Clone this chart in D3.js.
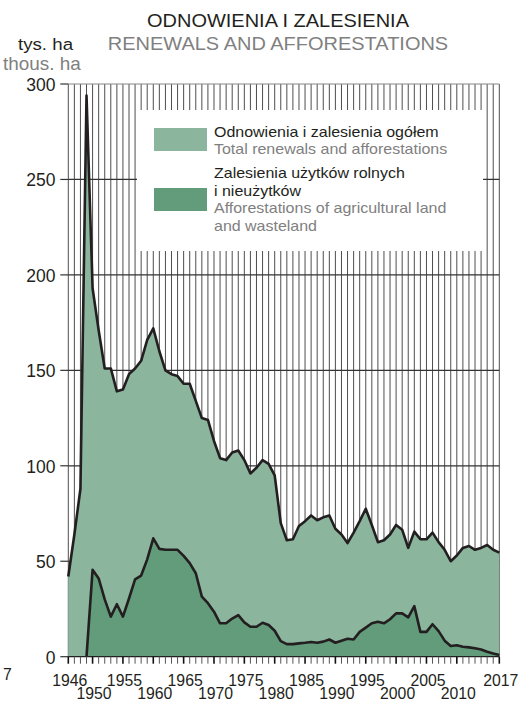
<!DOCTYPE html>
<html>
<head>
<meta charset="utf-8">
<script src="https://cdn.jsdelivr.net/npm/d3@7"></script>
<style>
  body { margin: 0; background: #fff; }
  svg { font-family: "Liberation Sans", Arial, sans-serif; }
</style>
</head>
<body>
<div id="chart"></div>
<script>
// chart data (thous. ha)
const years = d3.range(1946, 2018);
const total = [42, 64, 88, 294, 193, 171, 151, 151, 139, 140, 148, 151, 155, 166, 172, 160, 150, 148, 147, 143,
  143, 134, 125, 124, 113, 104, 103, 107, 108, 103, 96, 99, 103, 101, 95, 70, 61, 61.5, 68.5, 71,
  74, 71.5, 73, 74, 67, 64, 59.5, 65, 71, 77.5, 69, 60, 61, 64, 69, 66.5, 57, 65.5, 61.5, 61.5,
  65, 60, 56, 50, 53, 57, 58, 56, 57, 58.5, 56, 54.5];
const agriYears = d3.range(1949, 2018);
const agri = [0, 45.5, 41, 30, 21, 27.5, 21, 30.5, 40.5, 42.5, 51, 62, 56.5, 56, 56, 56,
  52.8, 49, 43.7, 31.5, 28, 23.6, 17.5, 17.5, 20, 21.8, 18, 15.7, 15.7, 17.8, 16.6, 13.6, 8.2, 6.6, 6.6, 7,
  7.3, 7.7, 7.3, 7.9, 9, 7.3, 8.4, 9.4, 9, 13, 15.2, 17.5, 18.3, 17.5, 19.6, 22.7, 22.7, 20.6, 26.5, 13,
  13, 17, 13.4, 8.4, 5.6, 6, 5.2, 4.9, 4.4, 3.8, 2.6, 1.7, 0.9];
const yTicks = [0, 50, 100, 150, 200, 250, 300];
const xLabelsTop = [1946, 1955, 1965, 1975, 1985, 1995, 2005, 2017];
const xLabelsBottom = [1950, 1960, 1970, 1980, 1990, 2000, 2010];

const width = 519, height = 703;
const margin = {top: 84, right: 19.7, bottom: 46.3, left: 68.3};
const lightGreen = "#8bb59d", darkGreen = "#639c7b";
const ink = "#231f20", grey = "#808080";

const svg = d3.select("#chart").append("svg")
  .attr("width", width)
  .attr("height", height);

const x = d3.scaleLinear().domain([1946, 2017]).range([margin.left, width - margin.right]);
const y = d3.scaleLinear().domain([0, 300]).range([height - margin.bottom, margin.top]);

// put a text somewhere, sx widens/narrows the lettering
function label(parent, tx, ty, txt, size, fill, anchor, sx) {
  return parent.append("text")
    .attr("transform", `translate(${tx},${ty}) scale(${sx || 1.08},1)`)
    .attr("font-size", size + "px")
    .attr("fill", fill)
    .attr("text-anchor", anchor || "start")
    .text(txt);
}

// vertical year grid
svg.append("g")
  .selectAll("line")
  .data(years)
  .enter().append("line")
  .attr("x1", d => x(d)).attr("x2", d => x(d))
  .attr("y1", y(300)).attr("y2", y(0))
  .attr("stroke", "#3a3a3a")
  .attr("stroke-width", 0.9);

// horizontal grid
svg.append("g")
  .selectAll("line")
  .data(yTicks.filter(d => d > 0))
  .enter().append("line")
  .attr("x1", x(1946)).attr("x2", x(2017))
  .attr("y1", d => y(d)).attr("y2", d => y(d))
  .attr("stroke", d => d == 300 ? "#888" : "#333")
  .attr("stroke-width", 1.2);

// y ticks to the left
svg.append("g")
  .selectAll("line")
  .data(yTicks)
  .enter().append("line")
  .attr("x1", x(1946) - 8).attr("x2", x(1946))
  .attr("y1", d => y(d)).attr("y2", d => y(d))
  .attr("stroke", "#333")
  .attr("stroke-width", 1.2);

// legend box hides grid
svg.append("rect")
  .attr("x", 137).attr("y", 110)
  .attr("width", 346).attr("height", 141)
  .attr("fill", "#fff");

const areaTotal = d3.area()
  .x((d, i) => x(years[i]))
  .y0(y(0))
  .y1(d => y(d));
const areaAgri = d3.area()
  .x((d, i) => x(agriYears[i]))
  .y0(y(0))
  .y1(d => y(d));

svg.append("path").datum(total).attr("d", areaTotal).attr("fill", lightGreen);
svg.append("path").datum(agri).attr("d", areaAgri).attr("fill", darkGreen);

const lineTotal = d3.line().x((d, i) => x(years[i])).y(d => y(d));
const lineAgri = d3.line().x((d, i) => x(agriYears[i])).y(d => y(d));

svg.append("path").datum(total).attr("d", lineTotal)
  .attr("fill", "none").attr("stroke", ink).attr("stroke-width", 2.6)
  .attr("stroke-linejoin", "round");
svg.append("path").datum(agri).attr("d", lineAgri)
  .attr("fill", "none").attr("stroke", ink).attr("stroke-width", 2.6)
  .attr("stroke-linejoin", "round");

// x axis line and ticks
svg.append("line")
  .attr("x1", x(1946)).attr("x2", x(2017))
  .attr("y1", y(0)).attr("y2", y(0))
  .attr("stroke", ink).attr("stroke-width", 1.2);

const labelled = xLabelsTop.concat(xLabelsBottom);
svg.append("g")
  .selectAll("line")
  .data(years)
  .enter().append("line")
  .attr("x1", d => x(d)).attr("x2", d => x(d))
  .attr("y1", y(0)).attr("y2", y(0) + 7)
  .attr("stroke", d => labelled.includes(d) ? "#111" : "#555")
  .attr("stroke-width", d => labelled.includes(d) ? 1.6 : 1);

// tick labels
const yLab = svg.append("g");
yTicks.forEach(d => label(yLab, 55.5, y(d) + 7, d, 17.5, ink, "end", 1));

const xLab = svg.append("g");
xLabelsTop.forEach(d => label(xLab, x(d) + 1.5, 685.5, d, 17, ink, "middle", 0.93));
xLabelsBottom.forEach(d => label(xLab, x(d) + 1.5, 699, d, 17, ink, "middle", 0.93));

label(svg, 3, 680, "7", 17, ink, "start", 0.93);

// titles
label(svg, 278, 27, "ODNOWIENIA I ZALESIENIA", 18.5, ink, "middle");
label(svg, 278, 50, "RENEWALS AND AFFORESTATIONS", 18.5, grey, "middle");
label(svg, 18, 50, "tys. ha", 17.3, ink);
label(svg, 3, 70, "thous. ha", 17.5, grey);

// legend
const legend = svg.append("g");
legend.append("rect").attr("x", 154).attr("y", 128).attr("width", 53).attr("height", 23).attr("fill", lightGreen);
legend.append("rect").attr("x", 154).attr("y", 188).attr("width", 53).attr("height", 23).attr("fill", darkGreen);
const legendLines = [
  ["Odnowienia i zalesienia ogółem", 137, ink],
  ["Total renewals and afforestations", 154, grey],
  ["Zalesienia użytków rolnych", 178, ink],
  ["i nieużytków", 196, ink],
  ["Afforestations of agricultural land", 213, grey],
  ["and wasteland", 231, grey]
];
legendLines.forEach(d => label(legend, 214, d[1], d[0], 14.8, d[2]));
</script>
</body>
</html>
